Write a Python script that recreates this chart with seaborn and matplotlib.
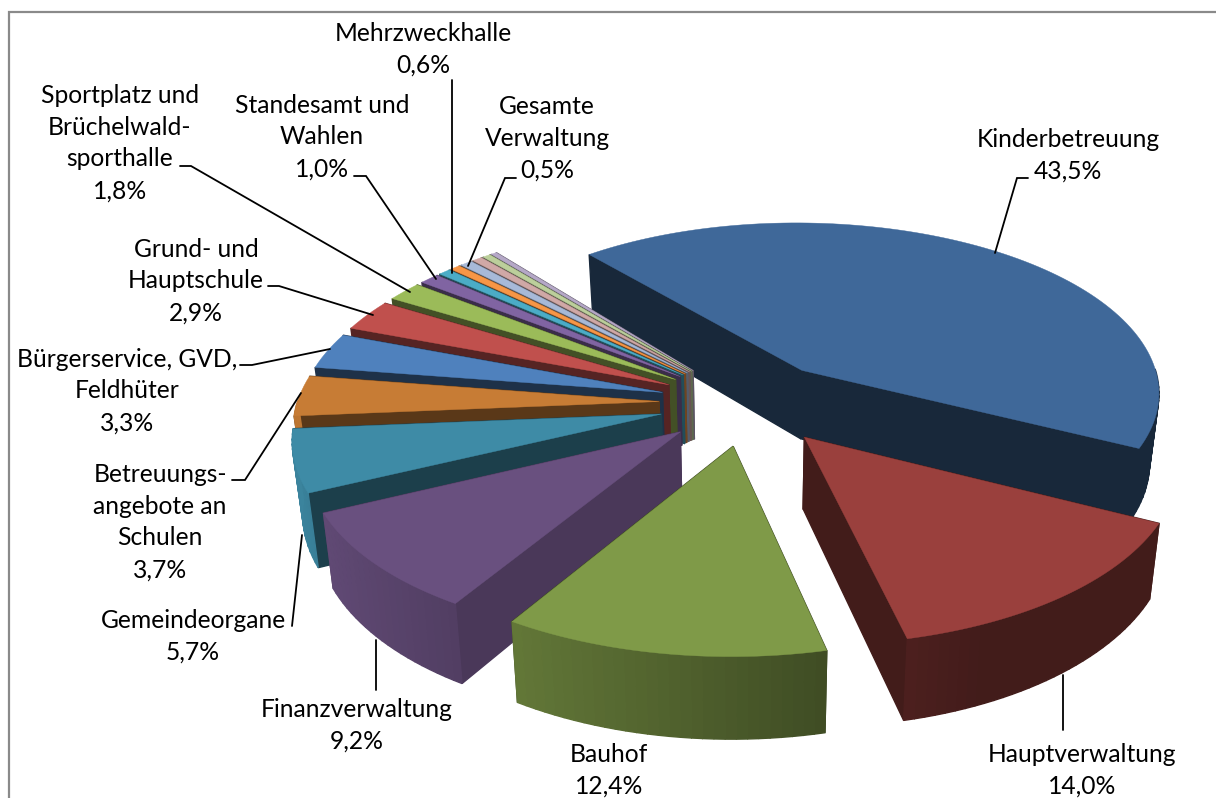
import numpy as np
import matplotlib
matplotlib.use("Agg")
import matplotlib.pyplot as plt
import seaborn as sns

# share of each position in percent, clockwise
names = ["Kinderbetreuung", "Hauptverwaltung", "Bauhof", "Finanzverwaltung", "Gemeindeorgane",
         "Betreuungs-\nangebote an\nSchulen", "Bürgerservice, GVD,\nFeldhüter", "Grund- und\nHauptschule",
         "Sportplatz und\nBrüchelwald-\nsporthalle", "Standesamt und\nWahlen", "Mehrzweckhalle",
         "Gesamte\nVerwaltung", "", "", "", ""]
values = [43.5, 14.0, 12.4, 9.2, 5.7, 3.7, 3.3, 2.9, 1.8, 1.0, 0.6, 0.5, 0.6, 0.5, 0.4, 0.3]
colors = ["#3f6899", "#9a403d", "#7f9a48", "#69507f", "#3e8ba6", "#c77c35", "#4f81bd", "#c0504d",
          "#9bbb59", "#8064a2", "#4bacc6", "#f79646", "#a7b9d8", "#d0a8a6", "#bccf9b", "#b5a8c7"]
# how dark the cut faces are, relative to the top colour
cut_shade = [0.38, 0.43, 0.43, 0.7, 0.45, 0.45, 0.38, 0.45, 0.43, 0.45, 0.45, 0.45, 0.5, 0.5, 0.5, 0.5]

# label centre, only for the slices that have a label
label_xy = [(1068, 155), (1082, 770), (609, 770), (357, 725), (193, 636), (160, 522), (127, 391),
            (196, 281), (120, 143), (322, 137), (423, 49), (547, 138)]
leaders = [[(1028, 178), (1017, 178), (995, 253)],
           [(1063, 730), (1063, 675)],
           [],
           [(376, 690), (376, 640)],
           [(292, 626), (302, 535)],
           [(232, 480), (245, 480), (301, 393)],
           [(240, 365), (252, 365), (330, 349)],
           [(268, 286), (279, 286), (373, 315)],
           [(180, 166), (191, 166), (410, 292)],
           [(354, 176), (366, 176), (436, 279)],
           [(452, 80), (452, 273)],
           [(516, 178), (505, 178), (468, 266)]]

start_angle = -40
explode = 0.246
cx, cy = 748, 403
scale_x, scale_y = 362, 173
persp = 0.1225
depth = 70
taper = 0.023

sns.set_theme(style="white")
plt.rcParams['font.family'] = ['Lato', 'DejaVu Sans']


def project(x, y, z):
    f = 1 / (1 + persp * y)
    return cx + scale_x * x * f * (1 - taper * z), cy - scale_y * y * f + depth * f * z


def shaded(color, amount):
    return tuple(c * amount for c in matplotlib.colors.to_rgb(color))


fig = plt.figure(figsize=(12.16, 7.98), dpi=100)
ax = fig.add_axes([0, 0, 1, 1])
ax.set_xlim(0, 1216)
ax.set_ylim(798, 0)
ax.axis("off")

edges = start_angle + np.concatenate([[0], np.cumsum(values)]) * 3.6
mids = (edges[:-1] + edges[1:]) / 2

# back slices first so the front ones cover them
order = np.argsort(-np.cos(np.radians(mids)))
for i in order:
    a0, a1 = edges[i], edges[i + 1]
    off_x = explode * np.sin(np.radians(mids[i]))
    off_y = explode * np.cos(np.radians(mids[i]))
    steps = max(int((a1 - a0) / 1.5), 2)
    ang = np.radians(np.linspace(a0, a1, steps + 1))
    xs = off_x + np.sin(ang)
    ys = off_y + np.cos(ang)

    # the two cut faces
    for x_end, y_end in [(xs[0], ys[0]), (xs[-1], ys[-1])]:
        p = [project(off_x, off_y, 0), project(x_end, y_end, 0),
             project(x_end, y_end, 1), project(off_x, off_y, 1)]
        ax.fill(*zip(*p), color=shaded(colors[i], cut_shade[i]), lw=1.0)

    # outer wall, lighter towards the left, back part can not be seen
    for k in range(steps):
        mid = (ang[k] + ang[k + 1]) / 2
        if np.cos(mid) > 0:
            continue
        s = np.clip(0.58 - 0.37 * np.sin(mid), cut_shade[i], 0.95)
        p = [project(xs[k], ys[k], 0), project(xs[k + 1], ys[k + 1], 0),
             project(xs[k + 1], ys[k + 1], 1), project(xs[k], ys[k], 1)]
        ax.fill(*zip(*p), color=shaded(colors[i], s), lw=1.0)

    top = [project(off_x, off_y, 0)] + [project(x, y, 0) for x, y in zip(xs, ys)]
    ax.fill(*zip(*top), color=colors[i], lw=0.3)

for name, val, xy, line in zip(names, values, label_xy, leaders):
    pct = f"{val:.1f}%".replace(".", ",")
    ax.text(xy[0], xy[1], f"{name}\n{pct}", ha="center", va="center", multialignment="center",
            fontsize=17.7, linespacing=1.46, color="black")
    if line:
        ax.plot(*zip(*line), color="black", lw=1.3, solid_joinstyle="miter")

# chart frame, cut off on the right and at the bottom
ax.plot([9, 9, 1216], [798, 12, 12], color="#8a8a8a", lw=1.6, solid_joinstyle="miter")

fig.savefig("out.png", dpi=100)
